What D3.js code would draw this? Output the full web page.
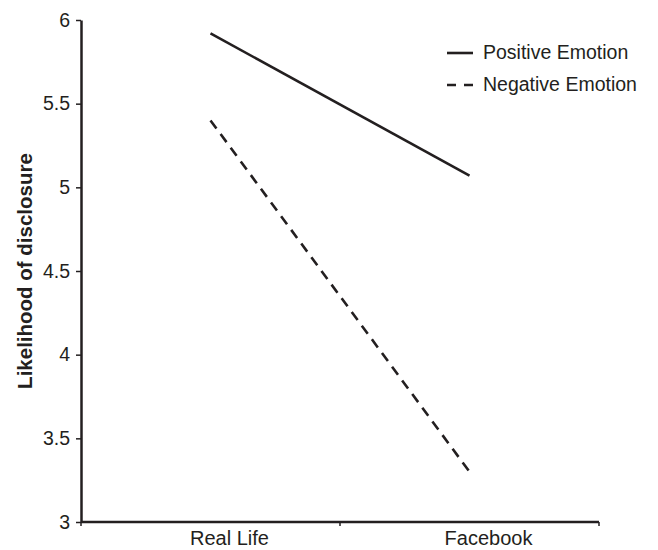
<!DOCTYPE html>
<html>
<head>
<meta charset="utf-8">
<script src="https://cdn.jsdelivr.net/npm/d3@7"></script>
<style>
  body { margin: 0; background: #fff; }
  svg { font-family: "Liberation Sans", Arial, sans-serif; }
  .axis path, .axis line { stroke: #231f20; }
  .axis text { fill: #231f20; font-size: 19.5px; }
</style>
</head>
<body>
<div class="chart"></div>
<script>
const categories = ['Real Life', 'Facebook']
const positive = [5.92, 5.07]
const negative = [5.40, 3.30]
const yTicks = [3, 3.5, 4, 4.5, 5, 5.5, 6]
const seriesNames = ['Positive Emotion', 'Negative Emotion']

const width = 658, height = 550
const margin = {top: 20, right: 59, bottom: 28, left: 81}

const svg = d3.select('.chart').append('svg')
  .attr('width', width)
  .attr('height', height)

let x = d3.scaleBand().domain(categories).range([margin.left, width - margin.right])
let y = d3.scaleLinear().domain([3, 6]).range([height - margin.bottom, margin.top])

// y axis
svg.append('g')
  .attr('class', 'axis')
  .attr('transform', 'translate(' + margin.left + ',0)')
  .call(d3.axisLeft(y).tickValues(yTicks).tickFormat(d3.format('')).tickSizeInner(5).tickSizeOuter(0).tickPadding(6))
  .call(g => g.select('.domain').attr('stroke-width', 2.5))
  .call(g => g.selectAll('.tick line').attr('stroke-width', 1.5))

// x axis - ticks sit between categories, labels a bit right of the points
let xaxis = svg.append('g')
  .attr('class', 'axis')
  .attr('transform', 'translate(0,' + (height - margin.bottom) + ')')
xaxis.append('line')
  .attr('x1', margin.left).attr('x2', width - margin.right)
  .attr('stroke', '#231f20').attr('stroke-width', 2.5)
const edges = [margin.left, margin.left + x.bandwidth(), width - margin.right]
xaxis.selectAll('.tk').data(edges).join('line')
  .attr('x1', d => d).attr('x2', d => d)
  .attr('y1', 0).attr('y2', 4)
  .attr('stroke', '#231f20').attr('stroke-width', 1.5)
xaxis.selectAll('text').data(categories).join('text')
  .attr('x', d => x(d) + x.bandwidth() / 2 + 19)
  .attr('y', 23)
  .attr('text-anchor', 'middle')
  .style('font-size', '20px')
  .text(d => d)

// y title
svg.append('text')
  .attr('transform', 'translate(32,' + ((margin.top + height - margin.bottom) / 2) + ') rotate(-90)')
  .attr('text-anchor', 'middle')
  .attr('font-size', 20.5)
  .attr('font-weight', 'bold')
  .attr('fill', '#231f20')
  .text('Likelihood of disclosure')

const line = d3.line()
  .x((d, i) => x(categories[i]) + x.bandwidth() / 2)
  .y(d => y(d))

svg.append('path')
  .datum(positive)
  .attr('d', line)
  .attr('fill', 'none')
  .attr('stroke', '#231f20')
  .attr('stroke-width', 2.6)

svg.append('path')
  .datum(negative)
  .attr('d', line)
  .attr('fill', 'none')
  .attr('stroke', '#231f20')
  .attr('stroke-width', 2.6)
  .attr('stroke-dasharray', '10,7')

// legend
let legend = svg.append('g').attr('transform', 'translate(447,53)')
seriesNames.forEach((name, i) => {
  let row = legend.append('g').attr('transform', 'translate(0,' + (i * 32) + ')')
  row.append('line')
    .attr('x1', 0).attr('x2', 26)
    .attr('stroke', '#231f20').attr('stroke-width', 2.6)
    .attr('stroke-dasharray', i === 1 ? '9,8' : null)
  row.append('text')
    .attr('x', 36).attr('y', 6)
    .attr('font-size', 19.5)
    .attr('fill', '#231f20')
    .text(name)
})
</script>
</body>
</html>
